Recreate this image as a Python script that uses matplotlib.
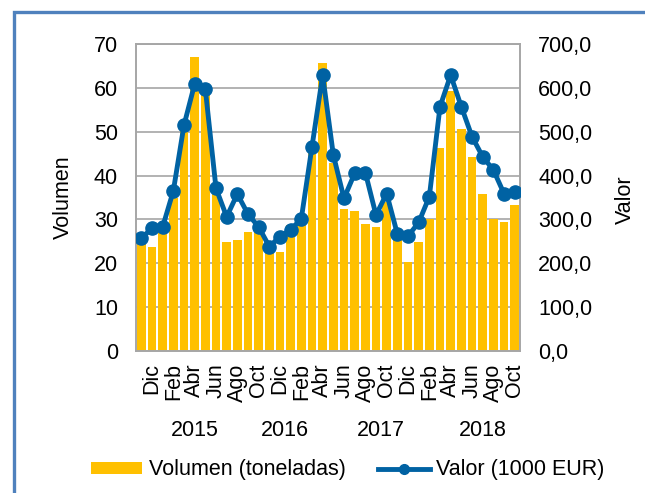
import matplotlib
matplotlib.use("Agg")

import matplotlib.pyplot as plt
import matplotlib.transforms as mtransforms
from matplotlib.lines import Line2D
from matplotlib.patches import Patch, Rectangle

# meses (Nov .. Oct, tres ciclos)
MONTHS = ["Nov", "Dic", "Ene", "Feb", "Mar", "Abr",
          "May", "Jun", "Jul", "Ago", "Sep", "Oct"] * 3

VOLUMEN = [26.0, 23.8, 27.8, 35.0, 50.4, 67.1, 59.0, 35.7, 24.8, 25.3, 27.2, 29.3,
           24.5, 22.5, 28.7, 29.5, 46.0, 65.7, 42.9, 32.4, 31.9, 28.9, 28.3, 34.0,
           26.0, 20.4, 24.8, 30.2, 46.2, 59.3, 50.6, 44.3, 35.7, 30.2, 29.3, 33.4]

VALOR = [257, 280, 283, 365, 515, 609, 597, 371, 306, 358, 312, 283,
         238, 261, 276, 302, 466, 629, 447, 348, 405, 407, 310, 359,
         267, 262, 293, 352, 557, 629, 557, 489, 443, 413, 359, 362]

# grupos de años: (etiqueta, primer índice, último índice)
YEAR_GROUPS = [("2015", 0, 10), ("2016", 11, 16), ("2017", 17, 28), ("2018", 29, 35)]

BAR_COLOR = "#FFC000"
LINE_COLOR = "#0062A3"
GRID_COLOR = "#A6A6A6"
FONT = "Liberation Sans"
FS = 15.5


def main() -> None:
    plt.rcParams["font.family"] = [FONT, "DejaVu Sans"]

    fig = plt.figure(figsize=(6.45, 4.93), dpi=100)
    ax = fig.add_axes([136 / 645, 1 - 351 / 493, 384 / 645, 307 / 493])

    x = list(range(len(VOLUMEN)))
    ax.bar(x, VOLUMEN, width=0.8, color=BAR_COLOR, zorder=2)

    ax.set_xlim(-0.5, len(x) - 0.5)
    ax.set_ylim(0, 70)
    ax.set_yticks(range(0, 71, 10))
    ax.grid(axis="y", color=GRID_COLOR, linewidth=1.2, zorder=0)
    ax.set_axisbelow(True)

    ax.set_xticks(x[1::2])
    ax.set_xticklabels(MONTHS[1::2], rotation=90, va="top", ha="center")
    ax.tick_params(axis="x", length=0, pad=9, labelsize=FS)
    ax.tick_params(axis="y", length=0, pad=13, labelsize=FS)

    ax2 = ax.twinx()
    ax2.plot(x, VALOR, color=LINE_COLOR, linewidth=3.5, marker="o",
             markersize=9.5, zorder=3)
    ax2.set_ylim(0, 700)
    ticks = list(range(0, 701, 100))
    ax2.set_yticks(ticks)
    ax2.set_yticklabels([f"{t:.1f}".replace(".", ",") for t in ticks])
    ax2.tick_params(axis="y", length=0, pad=13, labelsize=FS)

    for a in (ax, ax2):
        for spine in a.spines.values():
            spine.set_color(GRID_COLOR)
            spine.set_linewidth(1.2)

    # etiquetas de año bajo los meses
    trans = mtransforms.blended_transform_factory(ax.transData, fig.transFigure)
    for label, first, last in YEAR_GROUPS:
        ax.text((first + last) / 2, 1 - 431 / 493, label, transform=trans,
                ha="center", va="center", fontsize=FS)

    fig.text(63 / 645, 1 - 197 / 493, "Volumen", rotation=90,
             ha="center", va="center", fontsize=FS)
    fig.text(625 / 645, 1 - 200 / 493, "Valor", rotation=90,
             ha="center", va="center", fontsize=FS)

    handles = [
        Patch(facecolor=BAR_COLOR, label="Volumen (toneladas)"),
        Line2D([], [], color=LINE_COLOR, linewidth=3.5, marker="o",
               markersize=7, label="Valor (1000 EUR)"),
    ]
    fig.legend(handles=handles, loc="center", bbox_to_anchor=(0.539, 1 - 470 / 493),
               ncol=2, frameon=False, fontsize=FS, handlelength=2.4,
               handleheight=0.5, handletextpad=0.3, columnspacing=1.5,
               numpoints=1)

    # marco azul del gráfico
    frame = Rectangle((13.5 / 645, -0.1), 1.2, 1 - 12.5 / 493 + 0.1,
                      transform=fig.transFigure, fill=False,
                      edgecolor="#4F81BD", linewidth=2.4)
    fig.patches.append(frame)

    fig.savefig("out.png", dpi=100)
    plt.close(fig)


if __name__ == "__main__":
    main()
